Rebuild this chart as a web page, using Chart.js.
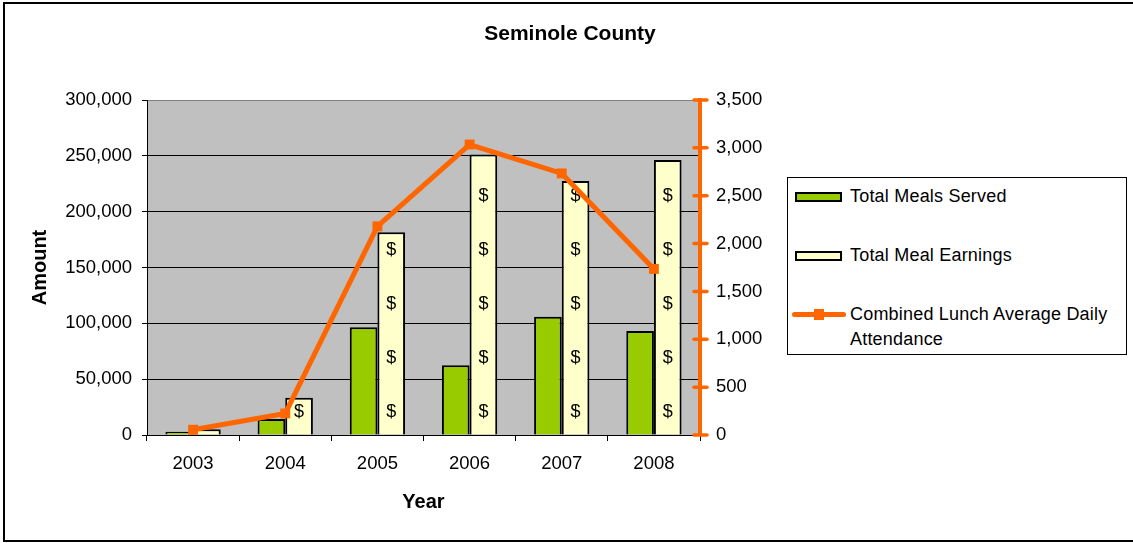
<!DOCTYPE html>
<html>
<head>
<meta charset="utf-8">
<title>Seminole County</title>
<script src="https://cdn.jsdelivr.net/npm/chart.js@4.4.1/dist/chart.umd.min.js"></script>
<style>
  html, body { margin: 0; padding: 0; background: #fff; overflow: hidden; }
  #frame {
    position: absolute; left: 3px; top: 2px; width: 1200px; height: 540px;
    box-sizing: border-box; border: 2px solid #000; border-right: none;
  }
  #chart { position: absolute; left: 0; top: 0; }
  #legend {
    position: absolute; left: 787px; top: 177px; width: 340px; height: 178px;
    box-sizing: border-box; border: 1px solid #000; background: #fff;
    font-family: "Liberation Sans", Arial, sans-serif; font-size: 18px; color: #000;
  }
  #legend .item { position: absolute; left: 0; width: 338px; height: 25px; }
  #legend .swatch {
    position: absolute; left: 7px; top: 8px; width: 47px; height: 10px;
    box-sizing: border-box; border: 2px solid #000;
  }
  #legend .lineSwatch { position: absolute; left: 4px; top: 10px; width: 54px; height: 5px; border-radius: 3px; }
  #legend .marker { position: absolute; left: 26px; top: 7px; width: 10px; height: 11px; }
  #legend .text { position: absolute; left: 62px; top: 0; width: 262px; line-height: 25px; letter-spacing: 0.2px; }
</style>
</head>
<body>
<div id="frame"></div>
<canvas id="chart" width="1133" height="543"></canvas>
<div id="legend"></div>
<script>
(function () {
  'use strict';

  /* ===== Data ===== */
  const years = ['2003', '2004', '2005', '2006', '2007', '2008'];
  const mealsServed = [3000, 14300, 96400, 62400, 105900, 93100];
  const mealEarnings = [5100, 33400, 181500, 251300, 227400, 246200];
  const lunchAttendance = [55, 225, 2180, 3035, 2733, 1735];
  const seriesLabels = ['Total Meals Served', 'Total Meal Earnings', 'Combined Lunch Average Daily Attendance'];

  const font = '"Liberation Sans", Arial, sans-serif';
  const green = '#99CC00';
  const cream = '#FFFFCC';
  const orange = '#FF6600';

  Chart.defaults.font.family = font;
  Chart.defaults.color = '#000';

  /* ===== Plugins ===== */
  // gray plot area
  const plotBackground = {
    id: 'plotBackground',
    beforeDraw(chart) {
      const { ctx, chartArea: a } = chart;
      ctx.save();
      ctx.fillStyle = '#C0C0C0';
      ctx.fillRect(a.left, a.top, a.right - a.left, a.bottom - a.top);
      ctx.restore();
    }
  };

  // "$" fill pattern in the earnings bars
  const dollarSigns = {
    id: 'dollarSigns',
    afterDatasetDraw(chart, args) {
      if (args.index !== 1) return;
      const ctx = chart.ctx;
      ctx.save();
      ctx.font = '18px ' + font;
      ctx.fillStyle = '#000';
      ctx.textAlign = 'center';
      ctx.textBaseline = 'middle';
      args.meta.data.forEach(bar => {
        const top = Math.min(bar.y, bar.base);
        const bottom = Math.max(bar.y, bar.base);
        ctx.save();
        ctx.beginPath();
        ctx.rect(bar.x - bar.width / 2, top, bar.width, bottom - top);
        ctx.clip();
        for (let y = bottom - 22; y - 9 > top; y -= 54) ctx.fillText('$', bar.x, y);
        ctx.restore();
      });
      ctx.restore();
    }
  };

  // orange tick marks crossing the right axis
  const rightTicks = {
    id: 'rightTicks',
    afterDraw(chart) {
      const s = chart.scales.y1;
      const ctx = chart.ctx;
      ctx.save();
      ctx.strokeStyle = orange;
      ctx.lineWidth = 3.5;
      ctx.lineCap = 'round';
      s.ticks.forEach(t => {
        const y = s.getPixelForValue(t.value);
        ctx.beginPath();
        ctx.moveTo(s.left - 6, y);
        ctx.lineTo(s.left + 7, y);
        ctx.stroke();
      });
      ctx.restore();
    }
  };

  /* ===== Chart ===== */
  const chart = new Chart(document.getElementById('chart'), {
    type: 'bar',
    data: {
      labels: years,
      datasets: [
        {
          label: seriesLabels[0],
          data: mealsServed,
          backgroundColor: green,
          borderColor: '#000',
          borderWidth: 2,
          categoryPercentage: 0.6,
          barPercentage: 1.0,
          yAxisID: 'y',
          order: 1
        },
        {
          label: seriesLabels[1],
          data: mealEarnings,
          backgroundColor: cream,
          borderColor: '#000',
          borderWidth: 2,
          categoryPercentage: 0.6,
          barPercentage: 1.0,
          yAxisID: 'y',
          order: 1
        },
        {
          type: 'line',
          label: seriesLabels[2],
          data: lunchAttendance,
          borderColor: orange,
          backgroundColor: orange,
          borderWidth: 5,
          pointStyle: 'rect',
          pointRadius: 7,
          pointBorderWidth: 0,
          tension: 0,
          yAxisID: 'y1',
          order: 0
        }
      ]
    },
    options: {
      responsive: false,
      animation: false,
      layout: { padding: { left: 10, right: 3, top: 0, bottom: 10 } },
      plugins: {
        legend: { display: false },
        tooltip: { enabled: false },
        title: {
          display: true,
          text: 'Seminole County',
          color: '#000',
          font: { size: 21, weight: 'bold' },
          padding: { top: 21.4, bottom: 53.4 }
        }
      },
      scales: {
        x: {
          afterFit: s => { s.height = 98; },
          grid: { offset: true, drawOnChartArea: false, color: '#000', tickLength: 6 },
          border: { color: '#000', width: 1 },
          ticks: { font: { size: 18.5 }, padding: 12 },
          title: { display: true, text: 'Year', font: { size: 20, weight: 'bold' }, padding: { top: 0, bottom: 19 } }
        },
        y: {
          position: 'left',
          min: 0,
          max: 300000,
          afterFit: s => { s.width = 137; },
          grid: {
            color: ctx => (ctx.tick && ctx.tick.value === 300000 ? '#808080' : '#000'),
            tickColor: '#000',
            tickLength: 5
          },
          border: { color: '#000', width: 1 },
          ticks: {
            stepSize: 50000,
            padding: 10,
            font: { size: 18.5 },
            callback: v => v.toLocaleString('en-US')
          },
          title: { display: true, text: 'Amount', font: { size: 20, weight: 'bold' }, padding: { top: 18.5, bottom: 0 } }
        },
        y1: {
          position: 'right',
          min: 0,
          max: 3500,
          afterFit: s => { s.width = 430; },
          grid: { drawOnChartArea: false, drawTicks: false },
          border: { color: orange, width: 4 },
          ticks: {
            stepSize: 500,
            padding: 16,
            font: { size: 18.5 },
            callback: v => v.toLocaleString('en-US')
          }
        }
      }
    },
    plugins: [plotBackground, dollarSigns, rightTicks]
  });

  /* ===== HTML legend built from the datasets ===== */
  const legend = document.getElementById('legend');
  const tops = [5.5, 64.5, 123.5];
  chart.data.datasets.forEach((ds, i) => {
    const item = document.createElement('div');
    item.className = 'item';
    item.style.top = tops[i] + 'px';
    if (ds.type === 'line') {
      const l = document.createElement('div');
      l.className = 'lineSwatch';
      l.style.background = ds.borderColor;
      const m = document.createElement('div');
      m.className = 'marker';
      m.style.background = ds.borderColor;
      item.appendChild(l);
      item.appendChild(m);
    } else {
      const sw = document.createElement('div');
      sw.className = 'swatch';
      sw.style.background = ds.backgroundColor;
      item.appendChild(sw);
    }
    const t = document.createElement('div');
    t.className = 'text';
    t.textContent = ds.label;
    item.appendChild(t);
    legend.appendChild(item);
  });
})();
</script>
</body>
</html>
